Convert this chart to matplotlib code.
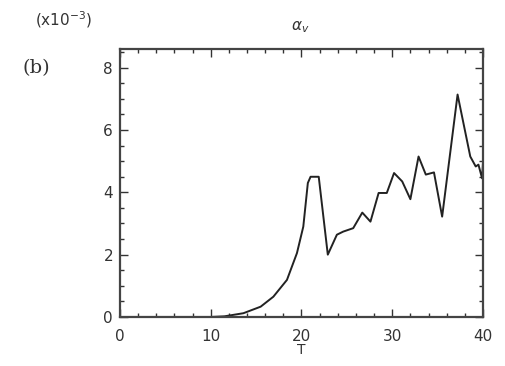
import numpy as np
from matplotlib import pyplot as plt

# time axis and alpha_v values (units of 1e-3)
T = [0, 5, 10, 11.5, 13.6, 15.5, 16.9, 18.4, 19.5, 20.2, 20.7, 21.0, 21.9,
     22.9, 23.9, 24.6, 25.7, 26.7, 27.6, 28.5, 29.4, 30.2, 31.1, 32.0,
     32.9, 33.7, 34.6, 35.5, 37.2, 38.6, 39.2, 39.5, 39.9, 40.0]
alpha_v = [0, 0, 0, 0.02, 0.12, 0.33, 0.65, 1.19, 2.05, 2.9, 4.3, 4.5, 4.5,
           2.0, 2.64, 2.74, 2.85, 3.35, 3.06, 3.98, 3.98, 4.62, 4.35, 3.78,
           5.15, 4.57, 4.64, 3.22, 7.14, 5.15, 4.83, 4.89, 4.45, 4.95]

fig = plt.figure(figsize=(5.05, 3.66), dpi=100)
ax = fig.add_axes([0.2376, 0.134, 0.7188, 0.732])
ax.plot(T, alpha_v, color='#222222', lw=1.4)

ax.set_xlim(0, 40)
ax.set_ylim(0, 8.6)
ax.set_xticks([0, 10, 20, 30, 40])
ax.set_xticks(np.arange(0, 40.1, 2), minor=True)
ax.set_yticks([0, 2, 4, 6, 8])
ax.set_yticks(np.arange(0, 8.6, 0.5), minor=True)
ax.tick_params(which='both', direction='in', top=True, right=True,
               labelsize=11, colors='#333333')
ax.tick_params(axis='x', pad=9)
ax.tick_params(axis='y', pad=5)
ax.tick_params(which='major', length=6, width=1)
ax.tick_params(which='minor', length=3, width=1)
for s in ax.spines.values():
    s.set_linewidth(1.6)
    s.set_color('#444444')
ax.set_xlabel('T', fontsize=10, color='#333333', labelpad=-1)

fig.text(0.594, 0.925, r'$\alpha_v$', fontsize=11, ha='center', va='center', color='#333333')
fig.text(0.07, 0.945, r'(x10$^{-3}$)', fontsize=11, ha='left', va='center', color='#333333')
fig.text(0.045, 0.815, '(b)', fontsize=14, family='DejaVu Serif', ha='left', va='center', color='#333333')

plt.savefig('out.png', dpi=100)
